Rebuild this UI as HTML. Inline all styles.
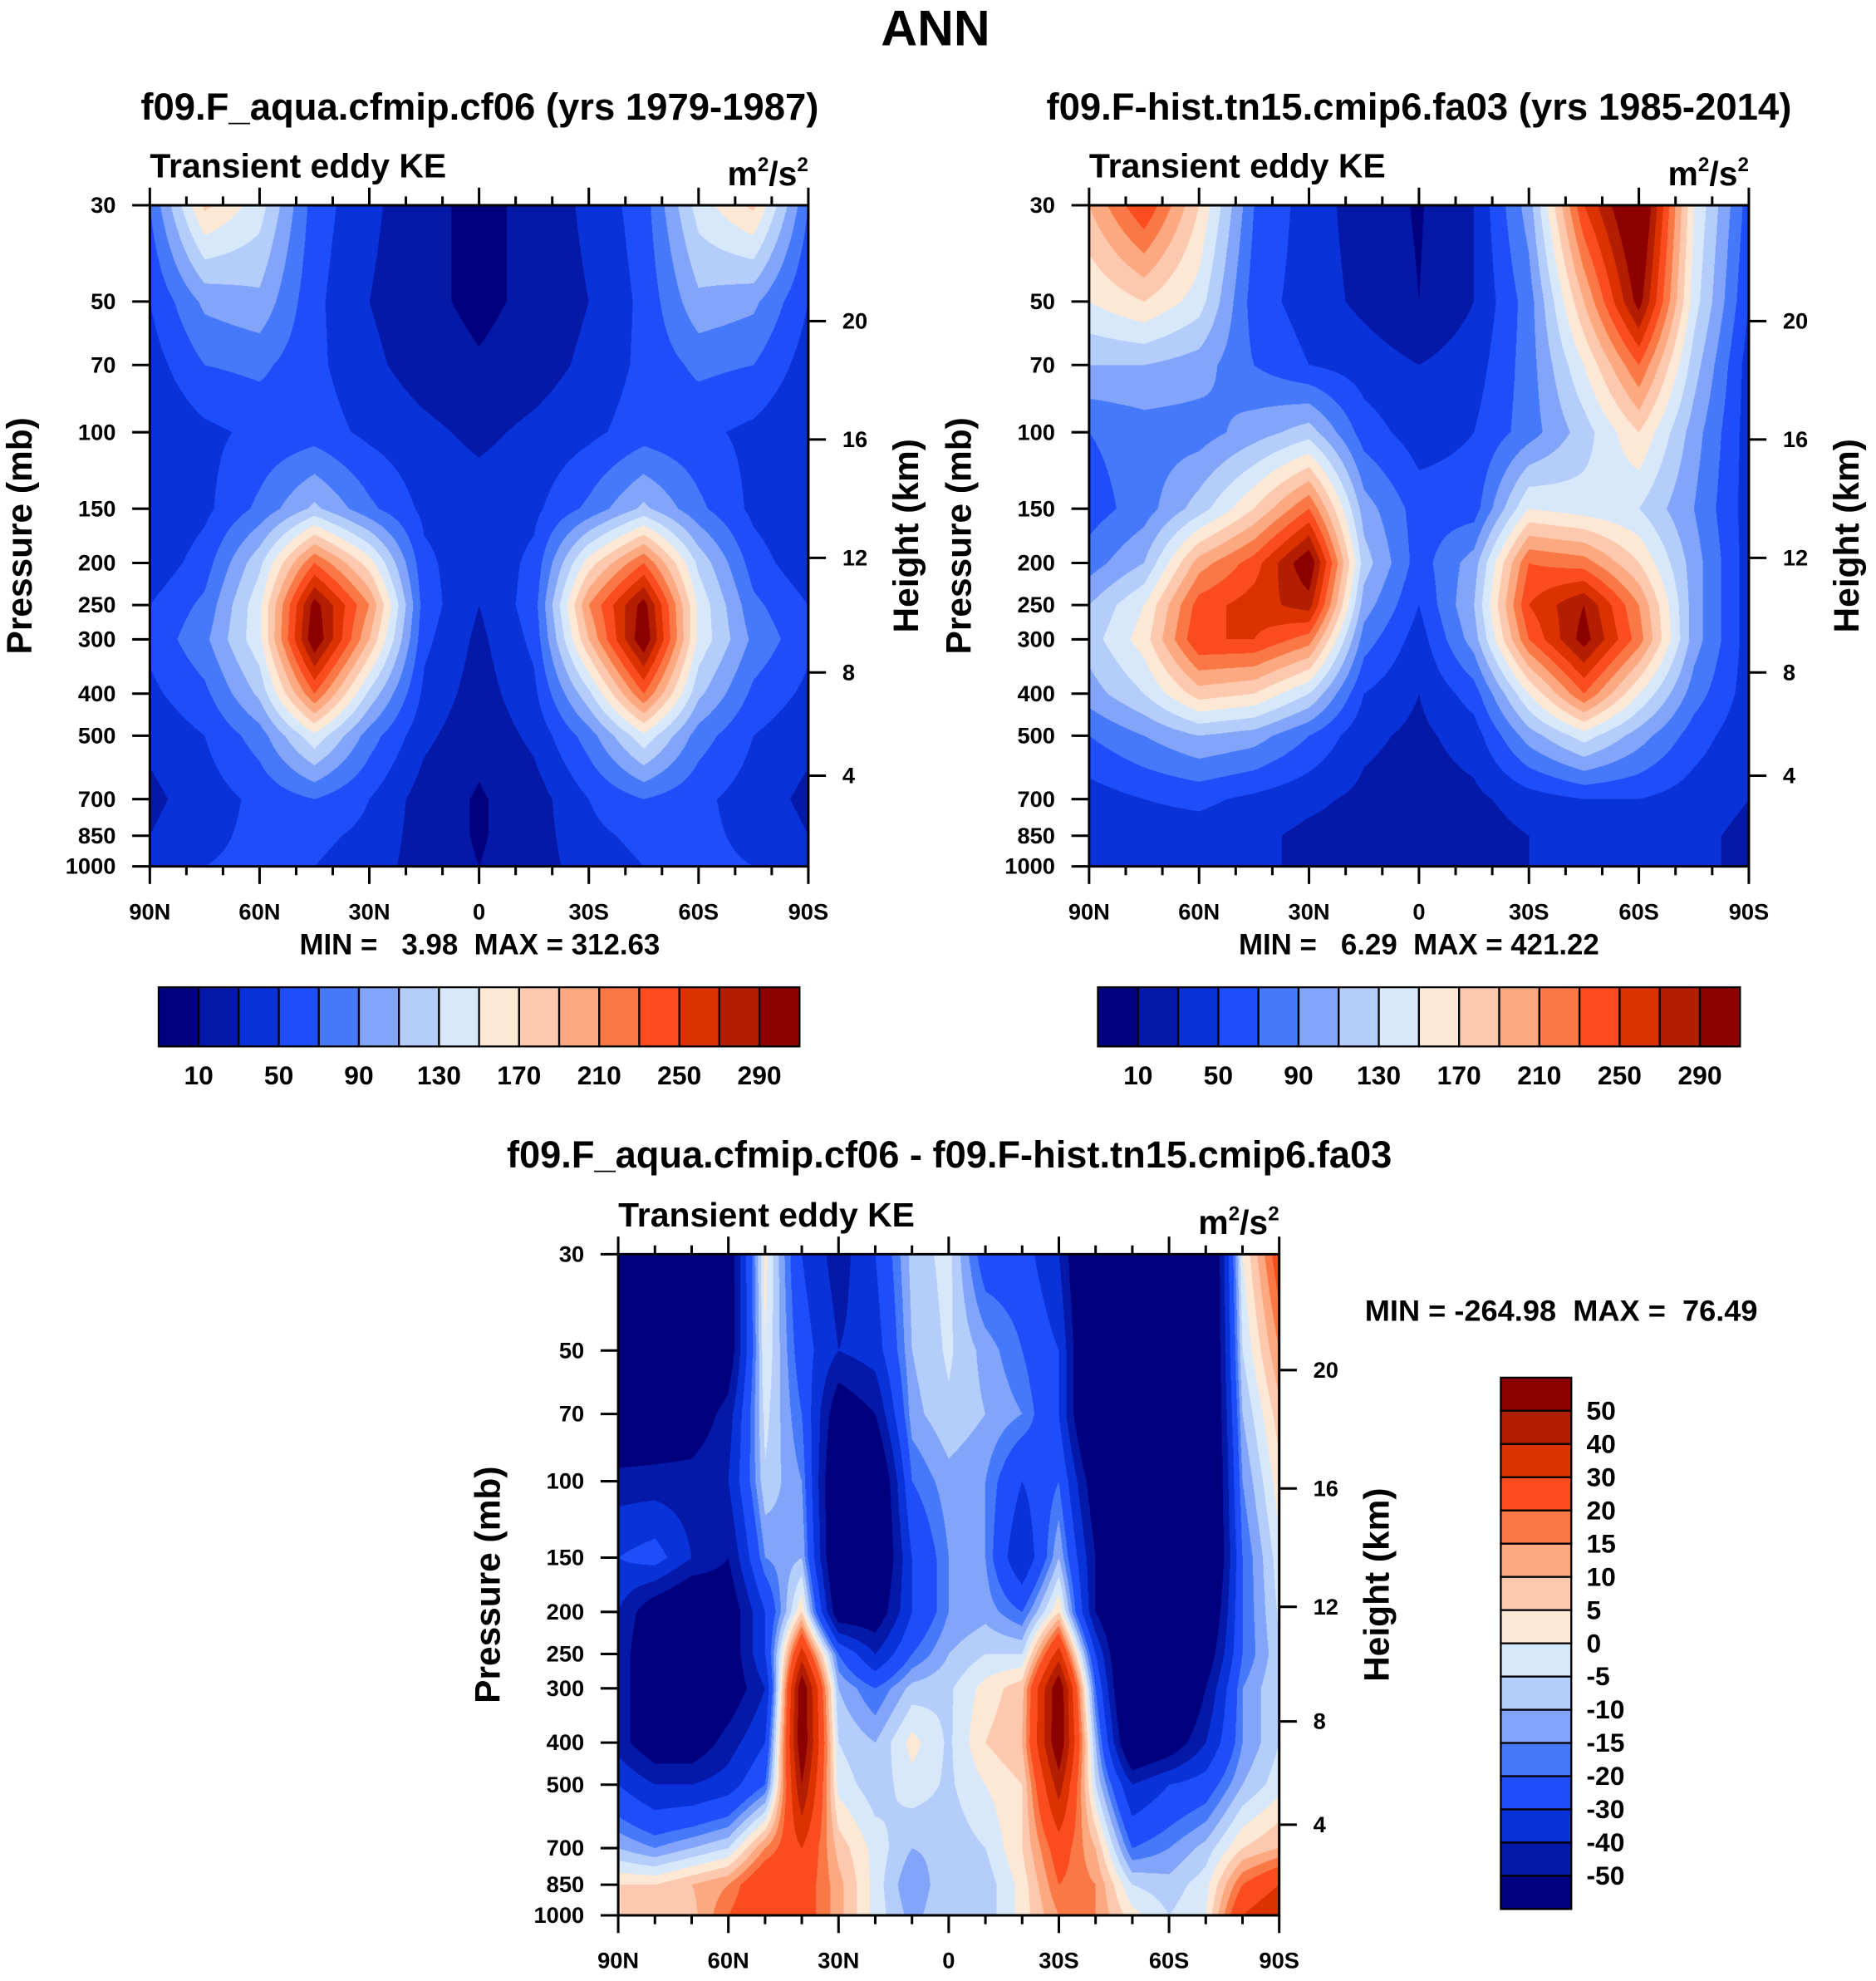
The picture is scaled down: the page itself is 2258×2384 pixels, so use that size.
<!DOCTYPE html>
<html><head><meta charset="utf-8">
<style>
html,body{margin:0;padding:0;background:#fff;width:2258px;height:2384px;overflow:hidden}
#wrap{position:absolute;left:0;top:0;width:1490px;height:1573px;transform:scale(1.51544);transform-origin:0 0}
canvas{position:absolute}
svg{position:absolute;left:0;top:0}
text{font-family:"Liberation Sans",Arial,sans-serif;font-weight:bold;fill:#000;white-space:pre}
</style></head>
<body>
<div id="wrap">
<canvas id="c1" width="1046" height="1050" style="left:119px;top:163px;width:523px;height:525px"></canvas>
<canvas id="c2" width="1048" height="1050" style="left:865px;top:163px;width:524px;height:525px"></canvas>
<canvas id="c3" width="1050" height="1050" style="left:491px;top:996px;width:525px;height:525px"></canvas>
<svg id="s" width="1490" height="1573" viewBox="0 0 1490 1573"></svg>
</div>
<script>
// ---- data ----
const levels = [30,50,70,100,150,200,250,300,400,500,700,850,1000];
const lats13 = [90,75,60,45,30,15,0,-15,-30,-45,-60,-75,-90];
const lats19 = [90,80,70,60,50,40,30,20,10,0,-10,-20,-30,-40,-50,-60,-70,-80,-90];
const field1 = [
[70,175,140,60,35,15,5,15,35,60,140,175,70],
[50,95,105,55,30,15,5,15,30,55,105,95,50],
[40,70,75,55,35,20,12,20,35,55,75,70,40],
[30,45,55,60,45,35,25,35,45,60,55,45,30],
[30,45,75,115,75,45,40,45,75,115,75,45,30],
[35,60,125,230,160,55,35,55,160,230,125,60,35],
[50,75,145,300,210,60,30,60,210,300,145,75,50],
[55,85,145,310,190,55,25,55,190,310,145,85,55],
[45,65,115,230,125,45,20,45,125,230,115,65,45],
[35,50,80,145,80,35,15,35,80,145,80,50,35],
[25,40,55,70,50,20,8,20,50,70,55,40,25],
[30,45,55,55,45,20,8,20,45,55,55,45,30],
[40,50,55,50,40,20,10,20,40,50,55,50,40]];
const field2 = [
[190,250,170,70,40,20,8,30,100,250,330,150,60],
[150,170,140,60,40,25,10,30,80,190,300,140,50],
[110,110,100,70,50,40,30,40,80,150,230,120,40],
[70,80,80,100,120,60,40,50,80,120,170,100,40],
[60,80,120,170,230,100,60,60,150,140,130,90,40],
[80,110,200,240,310,120,60,100,230,220,170,100,40],
[110,150,240,260,280,100,50,110,250,290,210,100,40],
[120,160,250,250,220,80,40,100,230,300,220,100,40],
[100,130,180,170,130,50,30,60,150,230,150,80,40],
[70,90,110,100,70,35,25,40,100,140,100,60,35],
[40,50,55,45,35,25,20,25,40,50,50,40,30],
[35,40,40,35,25,20,15,20,30,40,40,35,25],
[35,40,40,35,25,20,15,20,30,40,40,35,25]];
const field3 = [
[-80,-80,-80,-60,2,-30,-45,-30,-8,-3,-25,-25,-40,-80,-80,-80,-80,0,25],
[-80,-80,-80,-60,0,-25,-40,-35,-10,-4,-12,-20,-30,-80,-80,-80,-80,-5,15],
[-70,-65,-60,-45,-3,-20,-60,-50,-12,-6,-10,-15,-30,-80,-80,-80,-80,-10,8],
[-45,-45,-45,-40,-6,-15,-70,-70,-20,-12,-15,-30,-20,-60,-80,-80,-80,-15,3],
[-30,-25,-40,-50,-15,-10,-70,-70,-30,-15,-15,-40,-10,-50,-80,-80,-80,-20,-2],
[-40,-60,-70,-60,-30,5,-60,-60,-30,-15,-12,-20,5,-50,-80,-80,-70,-20,-4],
[-40,-70,-70,-60,-30,35,-20,-40,-20,-10,-5,-5,35,-30,-80,-80,-60,-20,-6],
[-40,-70,-70,-60,-40,60,-10,-20,-8,-6,2,8,60,-20,-80,-80,-50,-15,-5],
[-45,-60,-60,-45,-30,60,-5,-10,2,-6,5,10,60,-10,-70,-60,-40,-15,-5],
[-30,-40,-40,-35,-20,50,-2,-8,-2,-6,0,5,45,-5,-40,-30,-25,-10,-2],
[-10,-15,-10,-5,15,30,8,-2,-10,-8,-5,5,25,10,-20,-15,-8,5,10],
[5,5,10,15,30,25,12,-2,-15,-5,-8,2,20,15,-5,-8,-2,20,30],
[5,5,8,20,30,25,12,-2,-12,-5,-8,2,15,15,2,-5,0,30,40]];
const cnLevels = [10,30,50,70,90,110,130,150,170,190,210,230,250,270,290];
const cnLabels = ["10","50","90","130","170","210","250","290"];
const difLevels = [-50,-40,-30,-20,-15,-10,-5,0,5,10,15,20,30,40,50];
const difLabels = ["50","40","30","20","15","10","5","0","-5","-10","-15","-20","-30","-40","-50"];
const pTicks = [30,50,70,100,150,200,250,300,400,500,700,850,1000];
const hTicks = [20,16,12,8,4];
const hFrac = [92,186,280,371,453];
const xLabels = ["90N","60N","30N","0","30S","60S","90S"];
const colors = ["#00007f","#0519a8","#0a32d9","#1e4dfa","#4678fa","#82a5fa","#b4cdfa","#d7e8fa","#fde8d6","#fcc8ae","#fca880","#fa7846","#fa4c1e","#dc3200","#b41e00","#8c0000"];

const rgb = colors.map(c=>[parseInt(c.substr(1,2),16),parseInt(c.substr(3,2),16),parseInt(c.substr(5,2),16)]);
const L30=Math.log(30), LR=Math.log(1000)-Math.log(30);
const yFrac = p => (Math.log(p)-L30)/LR;
const rowFr = levels.map(yFrac);

function draw(id, field, lats, lev){
  const cv=document.getElementById(id), ctx=cv.getContext('2d');
  const W=cv.width,H=cv.height, img=ctx.createImageData(W,H), d=img.data;
  const nc=lats.length;
  for(let y=0;y<H;y++){
    const fy=(y+0.5)/H;
    let r=0; while(r<levels.length-2 && rowFr[r+1]<fy) r++;
    const ty=Math.min(1,Math.max(0,(fy-rowFr[r])/(rowFr[r+1]-rowFr[r])));
    for(let x=0;x<W;x++){
      const fx=(x+0.5)/W*(nc-1);
      const c=Math.min(nc-2,Math.floor(fx)), tx=fx-c;
      const v=(field[r][c]*(1-tx)+field[r][c+1]*tx)*(1-ty)+(field[r+1][c]*(1-tx)+field[r+1][c+1]*tx)*ty;
      let k=0; while(k<lev.length && v>=lev[k]) k++;
      const col=rgb[k], i=(y*W+x)*4;
      d[i]=col[0];d[i+1]=col[1];d[i+2]=col[2];d[i+3]=255;
    }
  }
  ctx.putImageData(img,0,0);
}
draw('c1',field1,lats13,cnLevels);
draw('c2',field2,lats13,cnLevels);
draw('c3',field3,lats19,difLevels);

const S=document.getElementById('s'), NS='http://www.w3.org/2000/svg';
function el(tag,attrs,txt){const e=document.createElementNS(NS,tag);for(const k in attrs)e.setAttribute(k,attrs[k]);if(txt!==undefined)e.textContent=txt;S.appendChild(e);return e;}

let t=el('text',{x:743,y:36,'font-size':40,'text-anchor':'middle'},'ANN');



function axes(x0,y0,w,h,title,tcx,titleY,key,tlen){
  let e;
  const ta={x:tcx,y:titleY,'font-size':30,'text-anchor':'middle'};
  if(tlen){ta.textLength=tlen;ta.lengthAdjust='spacingAndGlyphs';}
  e=el('text',ta,title);
  
  
  e=el('text',{x:x0,y:y0-22,'font-size':27},'Transient eddy KE');
  
  
  e=el('text',{x:x0+w,y:y0-16,'font-size':27,'text-anchor':'end'});
  e.innerHTML='m<tspan dy="-11" font-size="16">2</tspan><tspan dy="11">/s</tspan><tspan dy="-11" font-size="16">2</tspan>';
  
  
  e=el('rect',{x:x0,y:y0,width:w,height:h,fill:'none',stroke:'#000','stroke-width':2});
  
  
  pTicks.forEach(p=>{
    const y=y0+yFrac(p)*h;
    let l=el('line',{x1:x0-14,x2:x0,y1:y,y2:y,stroke:'#000','stroke-width':2});
    
    
    let tt=el('text',{x:x0-27,y:y+6,'font-size':18,'text-anchor':'end'},String(p));
    
    
  });
  hTicks.forEach((hv,i)=>{
    const y=y0+hFrac[i]/525*h;
    let l=el('line',{x1:x0+w,x2:x0+w+14,y1:y,y2:y,stroke:'#000','stroke-width':2});
    
    
    let tt=el('text',{x:x0+w+27,y:y+6,'font-size':18},String(hv));
    
    
  });
  for(let i=0;i<=18;i++){
    const x=x0+i/18*w, major=i%3===0, len=major?14:7;
    let l=el('line',{x1:x,x2:x,y1:y0,y2:y0-len,stroke:'#000','stroke-width':2});
    
    
    l=el('line',{x1:x,x2:x,y1:y0+h,y2:y0+h+len,stroke:'#000','stroke-width':2});
    
    
  }
  xLabels.forEach((s,i)=>{
    let tt=el('text',{x:x0+i/6*w,y:y0+h+42,'font-size':18,'text-anchor':'middle'},s);
    
    
  });
  e=el('text',{x:0,y:0,'font-size':28,'text-anchor':'middle',transform:`translate(${x0-94},${y0+h/2}) rotate(-90)`},'Pressure (mb)');
  
  
  e=el('text',{x:0,y:0,'font-size':28,'text-anchor':'middle',transform:`translate(${x0+w+87},${y0+h/2}) rotate(-90)`},'Height (km)');
  
  
}
axes(119,163,523,525,'f09.F_aqua.cfmip.cf06 (yrs 1979-1987)',381,95,'panel1');
axes(865,163,524,525,'f09.F-hist.tn15.cmip6.fa03 (yrs 1985-2014)',1127,95,'panel2');
axes(491,996,525,525,'f09.F_aqua.cfmip.cf06 - f09.F-hist.tn15.cmip6.fa03',754,927,'panel3',703);

t=el('text',{x:381,y:758,'font-size':23,'text-anchor':'middle'},'MIN =   3.98  MAX = 312.63');


t=el('text',{x:1127,y:758,'font-size':23,'text-anchor':'middle'},'MIN =   6.29  MAX = 421.22');


t=el('text',{x:1240,y:1049,'font-size':23,'text-anchor':'middle',textLength:312,lengthAdjust:'spacingAndGlyphs'},'MIN = -264.98  MAX =  76.49');



function hbar(x0,y0,w,h,key){
  const bw=w/16;
  colors.forEach((c,i)=>{
    let r=el('rect',{x:x0+i*bw,y:y0,width:bw,height:h,fill:c,stroke:'#000','stroke-width':1.5});
    
    
  });
  cnLabels.forEach((s,i)=>{
    let tt=el('text',{x:x0+(1+2*i)*bw,y:y0+h+30,'font-size':21,'text-anchor':'middle'},s);
    
    
  });
}
hbar(126,784,509,47,'panel1');
hbar(872,784,510,47,'panel2');
(function(){
  const x0=1192,y0=1094,w=56,h=422,bh=h/16;
  colors.slice().reverse().forEach((c,i)=>{
    let r=el('rect',{x:x0,y:y0+i*bh,width:w,height:bh,fill:c,stroke:'#000','stroke-width':1.5});
    
    
  });
  difLabels.forEach((s,i)=>{
    let tt=el('text',{x:x0+w+12,y:y0+(i+1)*bh+7,'font-size':21},s);
    
    
  });
})();
</script>
</body></html>
